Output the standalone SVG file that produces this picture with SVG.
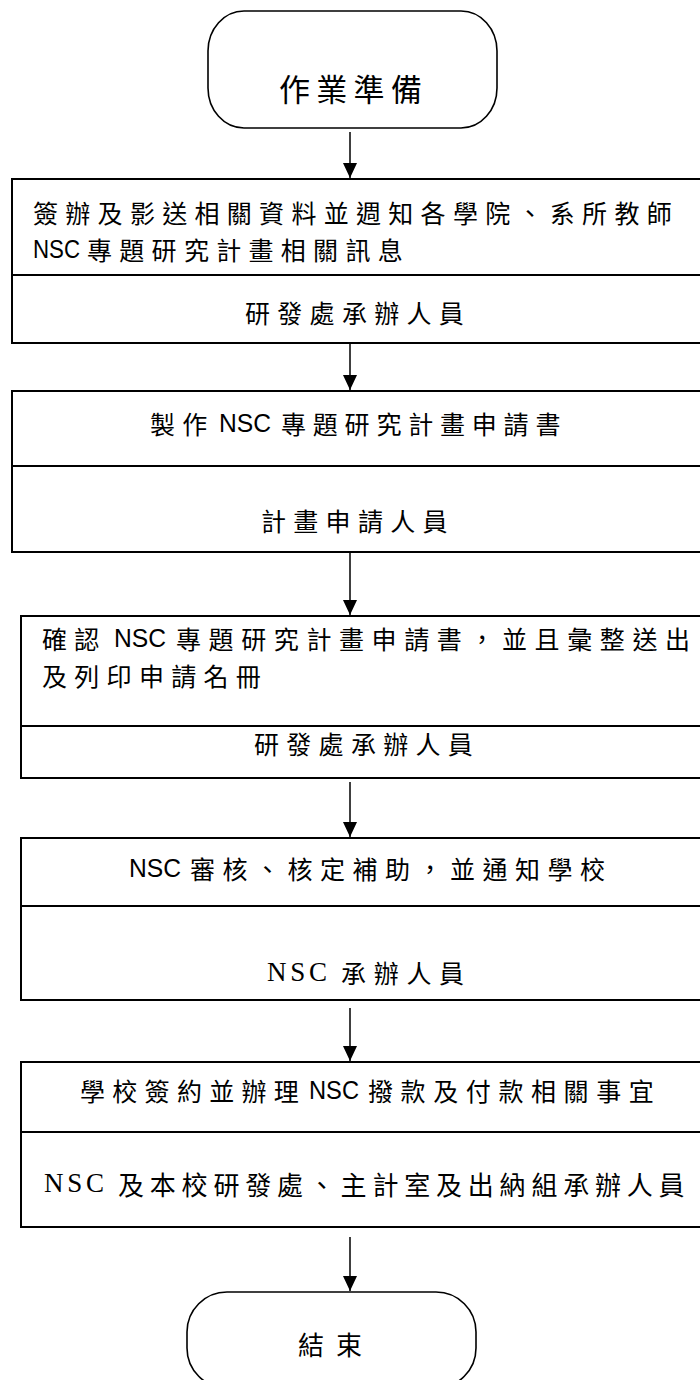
<svg xmlns="http://www.w3.org/2000/svg" width="700" height="1380" viewBox="0 0 700 1380">
<style>
.box{fill:#fff;stroke:#000;stroke-width:2}
.term{fill:#fff;stroke:#000;stroke-width:1.6}
.div{stroke:#000;stroke-width:2}
.conn{stroke:#000;stroke-width:1.5;fill:none}
text{font-family:"Noto Sans CJK TC","Noto Sans CJK SC",sans-serif;font-size:25px;fill:#000;dominant-baseline:central;letter-spacing:7.3px}
.big{font-size:31px;letter-spacing:6.3px}
.end{font-size:26px;letter-spacing:12px}
.sans{font-family:"Liberation Sans","Noto Sans",sans-serif;font-size:26px;letter-spacing:0}
.serif{font-family:"Liberation Serif",serif;font-size:27px;letter-spacing:0}
</style>
<defs>
<marker id="ah" viewBox="0 0 15 14" refX="15" refY="7" markerWidth="15" markerHeight="14" markerUnits="userSpaceOnUse" orient="auto">
<path d="M0,0 L15,7 L0,14 z" fill="#000"/>
</marker>
</defs>
<g id="connectors">
<line class="conn" x1="350" y1="132" x2="350" y2="178" marker-end="url(#ah)"/>
<line class="conn" x1="350" y1="343" x2="350" y2="390" marker-end="url(#ah)"/>
<line class="conn" x1="350" y1="553" x2="350" y2="615" marker-end="url(#ah)"/>
<line class="conn" x1="350" y1="782" x2="350" y2="837" marker-end="url(#ah)"/>
<line class="conn" x1="350" y1="1008" x2="350" y2="1061" marker-end="url(#ah)"/>
<line class="conn" x1="350" y1="1237" x2="350" y2="1291" marker-end="url(#ah)"/>
</g>
<g id="start">
<rect class="term" x="208" y="11" width="289" height="117" rx="36" ry="40"/>
<text class="big" x="279" y="87">作業準備</text>
</g>
<g id="step1">
<rect class="box" x="12" y="179" width="700" height="164"/>
<line class="div" x1="12" y1="275" x2="700" y2="275"/>
<text x="33" y="212">簽辦及影送相關資料並週知各學院、系所教師</text>
<text class="sans" x="33" y="249" textLength="47" lengthAdjust="spacingAndGlyphs">NSC</text>
<text x="87" y="249">專題研究計畫相關訊息</text>
<text x="245" y="312">研發處承辦人員</text>
</g>
<g id="step2">
<rect class="box" x="12" y="391" width="700" height="161"/>
<line class="div" x1="12" y1="466" x2="700" y2="466"/>
<text x="150" y="423">製作</text>
<text class="sans" x="219" y="423" textLength="52" lengthAdjust="spacingAndGlyphs">NSC</text>
<text x="281" y="423" style="letter-spacing:6.8px">專題研究計畫申請書</text>
<text x="261" y="520">計畫申請人員</text>
</g>
<g id="step3">
<rect class="box" x="21" y="616" width="700" height="162"/>
<line class="div" x1="21" y1="726" x2="700" y2="726"/>
<text x="42" y="638">確認</text>
<text class="sans" x="114" y="638" textLength="52" lengthAdjust="spacingAndGlyphs">NSC</text>
<text x="176" y="638" style="letter-spacing:7.6px">專題研究計畫申請書，並且彙整送出</text>
<text x="42" y="675">及列印申請名冊</text>
<text x="254" y="743">研發處承辦人員</text>
</g>
<g id="step4">
<rect class="box" x="21" y="838" width="700" height="162"/>
<line class="div" x1="21" y1="906" x2="700" y2="906"/>
<text class="sans" x="129" y="868" textLength="52" lengthAdjust="spacingAndGlyphs">NSC</text>
<text x="190" y="868" style="letter-spacing:7.5px">審核、核定補助，並通知學校</text>
<text class="serif" x="267" y="972" textLength="60">NSC</text>
<text x="341" y="972" style="letter-spacing:7.7px">承辦人員</text>
</g>
<g id="step5">
<rect class="box" x="21" y="1062" width="700" height="165"/>
<line class="div" x1="21" y1="1132" x2="700" y2="1132"/>
<text x="80" y="1090">學校簽約並辦理</text>
<text class="sans" x="309" y="1090" textLength="50" lengthAdjust="spacingAndGlyphs">NSC</text>
<text x="368" y="1090" style="letter-spacing:7.6px">撥款及付款相關事宜</text>
<text class="serif" x="44" y="1183" textLength="60">NSC</text>
<text x="118" y="1183" style="font-size:26px;letter-spacing:5.8px">及本校研發處、主計室及出納組承辦人員</text>
</g>
<g id="end">
<rect class="term" x="187" y="1292" width="289" height="96" rx="40" ry="40"/>
<text class="end" x="298" y="1343">結束</text>
</g>
</svg>
